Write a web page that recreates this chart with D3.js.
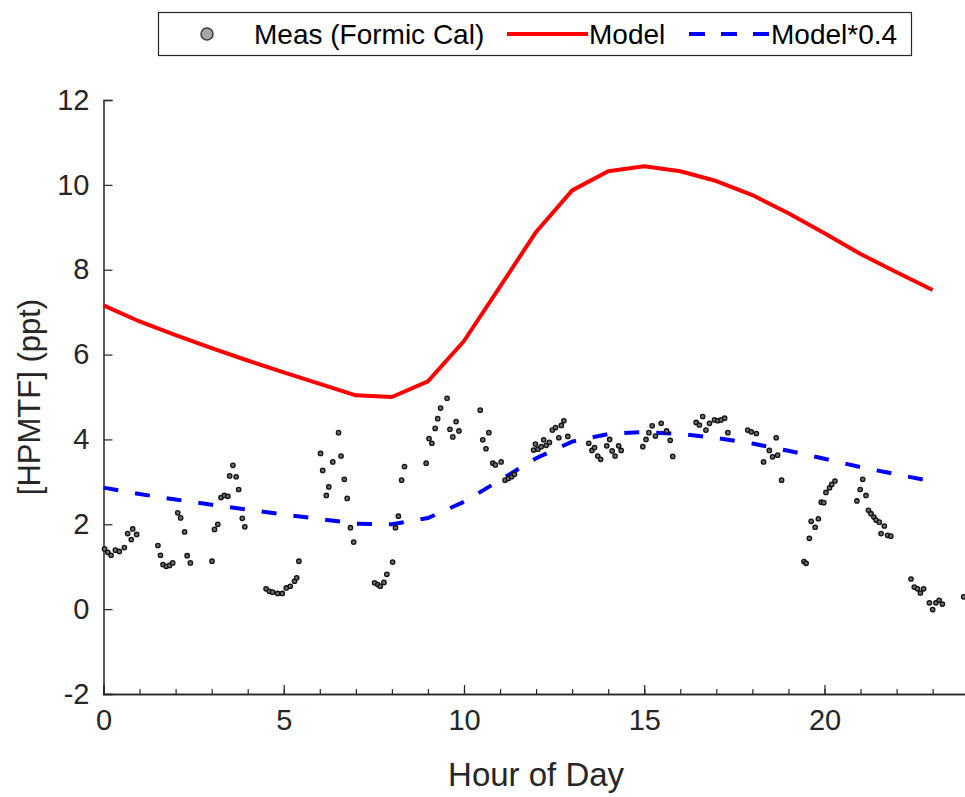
<!DOCTYPE html>
<html>
<head>
<meta charset="utf-8">
<script src="https://cdn.jsdelivr.net/npm/d3@7"></script>
<style>
  html, body { margin: 0; padding: 0; background: #fff; }
  svg { display: block; font-family: "Liberation Sans", Arial, sans-serif; }
</style>
</head>
<body>
<div id="diagram"></div>
<script>
// model, hourly
let modelHour = [0, 1, 2, 3, 4, 5, 6, 7, 8, 9, 10, 11, 12, 13, 14, 15, 16, 17, 18, 19, 20, 21, 22, 23];
let modelVal = [7.16, 6.78, 6.46, 6.15, 5.86, 5.58, 5.31, 5.04, 5.0, 5.37, 6.32, 7.6, 8.89, 9.87, 10.32, 10.44, 10.32, 10.09, 9.76, 9.33, 8.86, 8.37, 7.94, 7.52];
let modelScale = 0.4;

// measurements (formic cal)
let measHour = [
  0.03, 0.12, 0.21, 0.33, 0.44, 0.58, 0.67, 0.77, 0.81, 0.92,
  1.51, 1.58, 1.65, 1.74, 1.83, 1.92, 2.06, 2.14, 2.25, 2.32, 2.41,
  3.01, 3.08, 3.17, 3.26, 3.35, 3.45, 3.50, 3.59, 3.68, 3.75, 3.85, 3.92,
  4.51, 4.60, 4.69, 4.83, 4.96, 5.07, 5.18, 5.30, 5.36, 5.42,
  6.02, 6.08, 6.18, 6.25, 6.36, 6.52, 6.59, 6.68, 6.76, 6.85, 6.94,
  7.52, 7.61, 7.68, 7.78, 7.86, 8.02, 8.10, 8.18, 8.27, 8.35,
  8.95, 9.03, 9.11, 9.20, 9.27, 9.35, 9.53, 9.61, 9.69, 9.78, 9.86,
  10.45, 10.52, 10.61, 10.69, 10.80, 10.87, 11.03, 11.14, 11.23, 11.32, 11.40,
  11.93, 11.98, 12.05, 12.14, 12.21, 12.28, 12.37, 12.45, 12.54, 12.63, 12.70, 12.77, 12.88,
  13.46, 13.55, 13.62, 13.71, 13.79, 13.96, 14.04, 14.11, 14.19, 14.29, 14.36,
  14.96, 15.05, 15.13, 15.22, 15.31, 15.47, 15.62, 15.72, 15.79,
  16.44, 16.53, 16.62, 16.71, 16.81, 16.95, 17.04, 17.13, 17.23, 17.32,
  17.87, 17.97, 18.11, 18.31, 18.47, 18.56, 18.66, 18.70, 18.81,
  19.43, 19.49, 19.58, 19.63, 19.74, 19.83, 19.91, 19.98, 20.04, 20.14, 20.20, 20.29,
  20.90, 20.99, 21.06, 21.15, 21.22, 21.29, 21.37, 21.43, 21.52, 21.57, 21.66, 21.75, 21.84,
  22.40, 22.49, 22.58, 22.66, 22.75, 22.91, 23.00, 23.09, 23.18, 23.27, 23.86
];
let measVal = [
  1.42, 1.34, 1.27, 1.39, 1.36, 1.45, 1.78, 1.64, 1.89, 1.76,
  1.50, 1.27, 1.05, 1.01, 1.03, 1.09, 2.27, 2.15, 1.82, 1.26, 1.09,
  1.13, 1.88, 2.00, 2.63, 2.68, 2.66, 3.14, 3.39, 3.12, 2.82, 2.14, 1.94,
  0.48, 0.42, 0.40, 0.37, 0.37, 0.50, 0.54, 0.66, 0.74, 1.13,
  3.67, 3.27, 2.68, 2.88, 3.47, 4.16, 3.61, 3.06, 2.61, 1.92, 1.58,
  0.62, 0.58, 0.54, 0.63, 0.82, 1.11, 1.92, 2.19, 3.04, 3.36,
  3.44, 4.02, 3.91, 4.26, 4.49, 4.74, 4.97, 4.24, 4.06, 4.42, 4.20,
  4.69, 3.99, 3.78, 4.16, 3.44, 3.40, 3.47, 3.04, 3.08, 3.12, 3.18,
  3.75, 3.89, 3.77, 3.83, 3.99, 3.86, 3.93, 4.22, 4.28, 4.04, 4.33, 4.44, 4.07,
  3.91, 3.74, 3.81, 3.61, 3.53, 3.85, 4.00, 3.73, 3.61, 3.85, 3.74,
  3.83, 4.00, 4.16, 4.32, 4.08, 4.38, 4.20, 3.98, 3.60,
  4.40, 4.34, 4.54, 4.22, 4.38, 4.46, 4.44, 4.46, 4.50, 4.16,
  4.22, 4.18, 4.14, 3.47, 3.74, 3.59, 4.04, 3.63, 3.04,
  1.12, 1.08, 1.67, 2.07, 1.93, 2.13, 2.52, 2.51, 2.75, 2.86, 2.94, 3.02,
  2.55, 2.82, 3.06, 2.68, 2.33, 2.25, 2.17, 2.10, 2.05, 1.78, 1.96, 1.74, 1.72,
  0.71, 0.52, 0.48, 0.38, 0.48, 0.15, -0.01, 0.15, 0.21, 0.12, 0.29
];

let yTicks = [-2, 0, 2, 4, 6, 8, 10, 12];
let xTicks = [0, 5, 10, 15, 20];
let legendLabels = ['Meas (Formic Cal)', 'Model', 'Model*0.4'];

!(function () {
  let
    width = 965,
    height = 797,
    axisColor = '#262626',
    plain = function (d) { return String(d); }, // keep the ascii hyphen, like matlab
    xScale = d3.scaleLinear().domain([0, 24]).range([103.5, 103.5 + 24 * 36.05]),
    yScale = d3.scaleLinear().domain([-2, 12]).range([694, 100]);

  let svg = d3.select('#diagram')
    .append('svg')
    .attr('width', width)
    .attr('height', height)
    .attr('viewBox', '0 0 ' + width + ' ' + height);

  // x axis: minor ticks each hour, major every 5
  let xAxisG = svg.append('g').attr('transform', 'translate(0,' + yScale(-2) + ')');
  xAxisG.call(d3.axisBottom(xScale).tickValues(d3.range(0, 25)).tickSize(-5).tickFormat(''));
  xAxisG.append('g').call(d3.axisBottom(xScale).tickValues(xTicks).tickSize(-9).tickFormat(plain));
  xAxisG.selectAll('.domain').attr('stroke', axisColor).attr('stroke-width', 1.5);
  xAxisG.selectAll('.tick line').attr('stroke', axisColor).attr('stroke-width', 1.2);
  xAxisG.selectAll('.tick text')
    .attr('fill', axisColor)
    .attr('font-size', 29)
    .attr('font-family', '"Liberation Sans", Arial, sans-serif')
    .attr('y', 15);

  // y axis
  let yAxisG = svg.append('g').attr('transform', 'translate(' + xScale(0) + ',0)');
  yAxisG.call(d3.axisLeft(yScale).tickValues(yTicks).tickSize(-9).tickPadding(14).tickFormat(plain));
  yAxisG.selectAll('.domain').attr('stroke', axisColor).attr('stroke-width', 1.5);
  yAxisG.selectAll('.tick line').attr('stroke', axisColor).attr('stroke-width', 1.2);
  yAxisG.selectAll('.tick text')
    .attr('fill', axisColor)
    .attr('font-size', 29)
    .attr('font-family', '"Liberation Sans", Arial, sans-serif');

  // axis labels
  svg.append('text')
    .attr('x', xScale(12))
    .attr('y', 786)
    .attr('text-anchor', 'middle')
    .attr('font-size', 33)
    .attr('fill', axisColor)
    .text('Hour of Day');

  svg.append('text')
    .attr('transform', 'translate(40,' + yScale(5) + ') rotate(-90)')
    .attr('text-anchor', 'middle')
    .attr('font-size', 31)
    .attr('fill', axisColor)
    .text('[HPMTF] (ppt)');

  // model lines
  let line = d3.line()
    .x(function (d, i) { return xScale(modelHour[i]); })
    .y(function (d) { return yScale(d); });

  svg.append('path')
    .datum(modelVal)
    .attr('d', line)
    .attr('fill', 'none')
    .attr('stroke', '#ff0000')
    .attr('stroke-width', 4)
    .attr('stroke-linejoin', 'round');

  svg.append('path')
    .datum(modelVal.map(function (v) { return v * modelScale; }))
    .attr('d', line)
    .attr('fill', 'none')
    .attr('stroke', '#0000ff')
    .attr('stroke-width', 4)
    .attr('stroke-dasharray', '15,17');

  // measurements
  svg.append('g')
    .selectAll('circle')
    .data(measVal)
    .enter()
    .append('circle')
    .attr('cx', function (d, i) { return xScale(measHour[i]); })
    .attr('cy', function (d) { return yScale(d); })
    .attr('r', 2.2)
    .attr('fill', '#6e6e6e')
    .attr('stroke', '#111')
    .attr('stroke-width', 1.3);

  // legend
  let lg = svg.append('g');
  lg.append('rect')
    .attr('x', 158.5).attr('y', 12.5)
    .attr('width', 753).attr('height', 43)
    .attr('fill', '#fff')
    .attr('stroke', axisColor)
    .attr('stroke-width', 1.2);

  let ly = 34;
  lg.append('circle')
    .attr('cx', 207).attr('cy', ly).attr('r', 6)
    .attr('fill', '#a6a6a6').attr('stroke', '#3a3a3a').attr('stroke-width', 1.5);
  lg.append('line')
    .attr('x1', 507).attr('x2', 588).attr('y1', ly).attr('y2', ly)
    .attr('stroke', '#ff0000').attr('stroke-width', 4);
  lg.append('line')
    .attr('x1', 689).attr('x2', 770).attr('y1', ly).attr('y2', ly)
    .attr('stroke', '#0000ff').attr('stroke-width', 4)
    .attr('stroke-dasharray', '16,16');

  let textX = [254, 589, 771];
  lg.selectAll('text.lab')
    .data(legendLabels)
    .enter()
    .append('text')
    .attr('class', 'lab')
    .attr('x', function (d, i) { return textX[i]; })
    .attr('y', ly)
    .attr('dy', '0.35em')
    .attr('font-size', 28)
    .attr('fill', '#000')
    .text(function (d) { return d; });
}());
</script>
</body>
</html>
